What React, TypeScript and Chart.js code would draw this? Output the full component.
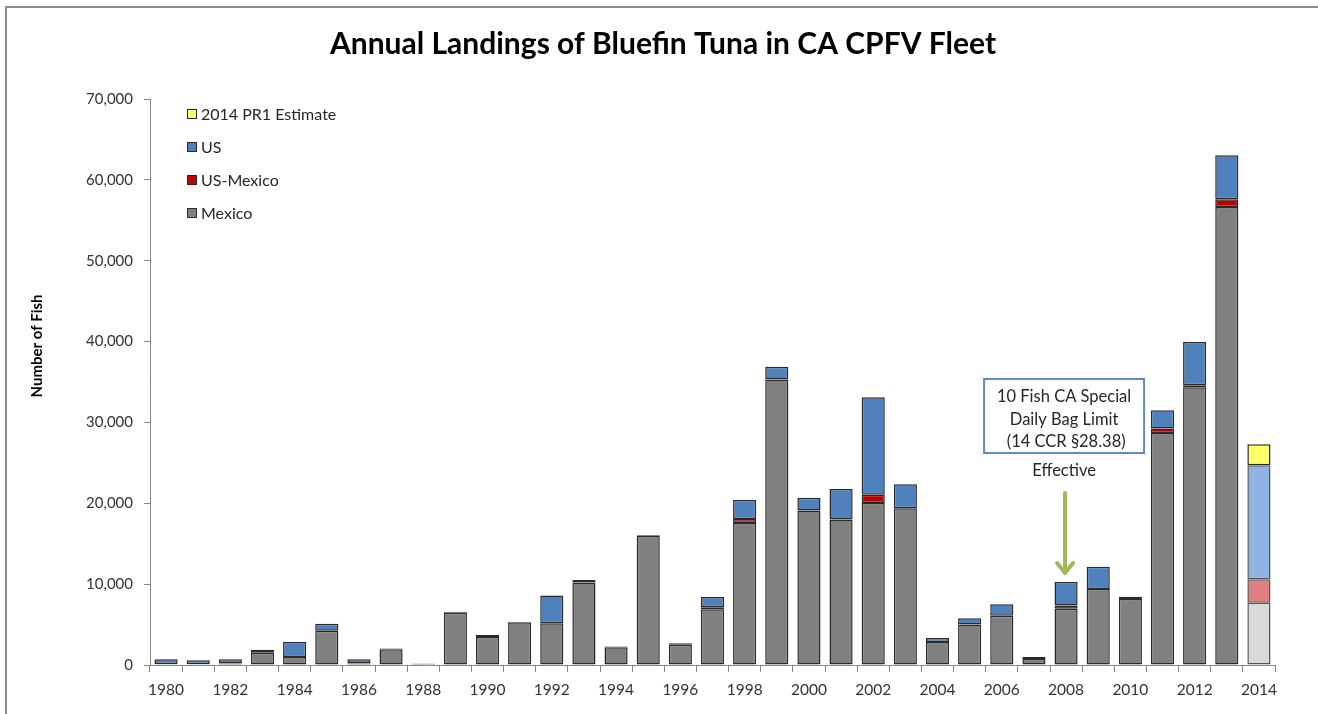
import React, { useEffect, useRef } from "react";
import { Chart, registerables } from "chart.js";

Chart.register(...registerables);

const years = [
  "1980", "1981", "1982", "1983", "1984", "1985", "1986", "1987", "1988", "1989",
  "1990", "1991", "1992", "1993", "1994", "1995", "1996", "1997", "1998", "1999",
  "2000", "2001", "2002", "2003", "2004", "2005", "2006", "2007", "2008", "2009",
  "2010", "2011", "2012", "2013", "2014",
];

const mexico = [
  100, 100, 200, 1500, 1000, 4250, 200, 1950, 150, 6450,
  3450, 5300, 5150, 10200, 2200, 15950, 2500, 6900, 17550, 35300,
  19100, 18000, 20050, 19400, 2850, 5000, 6100, 750, 6950, 9400,
  8150, 28700, 34350, 56650, 7700,
];

const usMexico = [
  null, null, null, null, null, null, null, null, null, null,
  null, null, null, null, null, null, null, 250, 500, null,
  null, null, 1000, null, null, null, null, null, 400, null,
  null, 550, 250, 950, 2900,
];

const us = [
  600, 500, 500, 400, 1850, 850, 500, 100, 50, 150,
  250, 30, 3450, 300, 80, 100, 200, 1250, 2350, 1600,
  1600, 3770, 12050, 2950, 500, 780, 1400, 250, 2900, 2750,
  300, 2250, 5350, 5450, 14100,
];

const pr1Estimate = [
  null, null, null, null, null, null, null, null, null, null,
  null, null, null, null, null, null, null, null, null, null,
  null, null, null, null, null, null, null, null, null, null,
  null, null, null, null, 2600,
];

const yTicks = [0, 10000, 20000, 30000, 40000, 50000, 60000, 70000];

const legendItems = [
  { label: "2014 PR1 Estimate", color: "#ffff66" },
  { label: "US", color: "#4f81bd" },
  { label: "US-Mexico", color: "#c00000" },
  { label: "Mexico", color: "#808080" },
];

const annotationLines = ["10 Fish CA Special", "Daily Bag Limit", " (14 CCR §28.38)"];
const annotationNote = "Effective";
const annotationYear = "2008";

const titleText = "Annual Landings of Bluefin Tuna in CA CPFV Fleet";
const yTitle = "Number of Fish";

const FONT = "Lato, 'Open Sans', sans-serif";
const TEXT = "#262626";
const AXIS = "#868686";
const BORDER = "#2a2a2a";

const isLast = (i: number) => i === years.length - 1;

export default function App() {
  const ref = useRef<HTMLCanvasElement>(null);

  useEffect(() => {
    document.body.style.margin = "0";
    const canvas = ref.current!;

    const decor = {
      id: "decor",
      beforeDraw(chart: any) {
        const ctx = chart.ctx;
        ctx.save();
        ctx.fillStyle = "#ffffff";
        ctx.fillRect(0, 0, chart.width, chart.height);
        ctx.strokeStyle = "#8c8c8c";
        ctx.lineWidth = 2;
        ctx.beginPath();
        ctx.moveTo(6, chart.height);
        ctx.lineTo(6, 7);
        ctx.lineTo(chart.width, 7);
        ctx.stroke();
        ctx.restore();
      },
      afterDraw(chart: any) {
        const ctx = chart.ctx;
        const area = chart.chartArea;
        const xs = chart.scales.x;
        ctx.save();
        // title
        ctx.fillStyle = "#000000";
        ctx.font = `bold 30px ${FONT}`;
        ctx.textAlign = "center";
        ctx.textBaseline = "middle";
        ctx.fillText(titleText, 663, 44);

        // y title
        ctx.save();
        ctx.translate(37, 346);
        ctx.rotate(-Math.PI / 2);
        ctx.font = `bold 15px ${FONT}`;
        ctx.fillStyle = "#000000";
        ctx.fillText(yTitle, 0, 0);
        ctx.restore();

        // legend
        ctx.font = `16px ${FONT}`;
        ctx.textAlign = "left";
        legendItems.forEach((it, i) => {
          const cy = area.top + 15 + i * 33;
          const bx = area.left + 37;
          ctx.fillStyle = it.color;
          ctx.fillRect(bx, cy - 5, 10, 10);
          ctx.strokeStyle = BORDER;
          ctx.lineWidth = 1;
          ctx.strokeRect(bx + 0.5, cy - 4.5, 9, 9);
          ctx.fillStyle = TEXT;
          ctx.fillText(it.label, bx + 14, cy + 1);
        });

        // annotation
        const cx = xs.getPixelForValue(years.indexOf(annotationYear));
        const boxTop = area.top + 280;
        const boxW = 160;
        const boxH = 74;
        ctx.strokeStyle = "#5b8bc9";
        ctx.lineWidth = 2;
        ctx.strokeRect(cx - 2 - boxW / 2, boxTop, boxW, boxH);
        ctx.fillStyle = TEXT;
        ctx.font = `16.5px ${FONT}`;
        ctx.textAlign = "center";
        annotationLines.forEach((l, i) => {
          ctx.fillText(l, cx - 2, boxTop + 18 + i * 22.5);
        });
        ctx.fillText(annotationNote, cx - 2, boxTop + 92);

        // arrow
        ctx.strokeStyle = "#9bbb59";
        ctx.lineWidth = 4;
        ctx.lineCap = "round";
        ctx.lineJoin = "round";
        ctx.beginPath();
        ctx.moveTo(cx - 1, boxTop + 114);
        ctx.lineTo(cx - 1, boxTop + 192);
        ctx.stroke();
        ctx.beginPath();
        ctx.moveTo(cx - 9, boxTop + 184);
        ctx.lineTo(cx - 1, boxTop + 194);
        ctx.lineTo(cx + 7, boxTop + 184);
        ctx.stroke();
        ctx.restore();
      },
    };

    const common = {
      borderColor: BORDER,
      borderWidth: 1.5,
      borderSkipped: false,
      inflateAmount: 0,
      barPercentage: 0.72,
      categoryPercentage: 1,
    };

    const chart = new Chart(canvas, {
      type: "bar",
      data: {
        labels: years,
        datasets: [
          {
            ...common,
            label: "Mexico",
            data: mexico,
            backgroundColor: years.map((_, i) => (isLast(i) ? "#d9d9d9" : "#808080")),
            borderColor: years.map((_, i) => (isLast(i) ? "#555555" : BORDER)),
          },
          {
            ...common,
            label: "US-Mexico",
            data: usMexico,
            backgroundColor: years.map((_, i) => (isLast(i) ? "#e07f80" : "#c00000")),
            borderColor: years.map((_, i) => (isLast(i) ? "#555555" : BORDER)),
          },
          {
            ...common,
            label: "US",
            data: us,
            backgroundColor: years.map((_, i) => (isLast(i) ? "#8eb4e3" : "#4f81bd")),
            borderColor: years.map((_, i) => (isLast(i) ? "#555555" : BORDER)),
          },
          {
            ...common,
            label: "2014 PR1 Estimate",
            data: pr1Estimate,
            backgroundColor: "#ffff66",
          },
        ] as any,
      },
      options: {
        responsive: false,
        animation: false,
        layout: { padding: { top: 99, right: 43, left: 0, bottom: 0 } },
        plugins: {
          legend: { display: false },
          tooltip: { enabled: false },
          title: { display: false },
        },
        scales: {
          x: {
            stacked: true,
            offset: true,
            afterFit: (s: any) => {
              s.height = 49;
            },
            grid: {
              offset: true,
              drawOnChartArea: false,
              drawTicks: true,
              tickLength: 7,
              color: AXIS,
            },
            border: { color: AXIS, width: 1 },
            ticks: {
              autoSkip: false,
              maxRotation: 0,
              minRotation: 0,
              padding: 9,
              color: "#333333",
              font: { family: FONT, size: 15.5 },
              callback: (_v: any, i: number) => (i % 2 === 0 ? years[i] : ""),
            },
          },
          y: {
            stacked: true,
            min: 0,
            max: 70000,
            afterFit: (s: any) => {
              s.width = 150;
            },
            afterBuildTicks: (s: any) => {
              s.ticks = yTicks.map((v) => ({ value: v }));
            },
            grid: {
              drawOnChartArea: false,
              drawTicks: true,
              tickLength: 6,
              color: AXIS,
            },
            border: { color: AXIS, width: 1 },
            ticks: {
              padding: 11,
              color: "#333333",
              font: { family: FONT, size: 15 },
              callback: (v: any) => Number(v).toLocaleString("en-US"),
            },
          },
        },
      },
      plugins: [decor],
    } as any);

    return () => chart.destroy();
  }, []);

  return (
    <div style={{ width: 1318, height: 714 }}>
      <canvas ref={ref} width={1318} height={714} />
    </div>
  );
}
